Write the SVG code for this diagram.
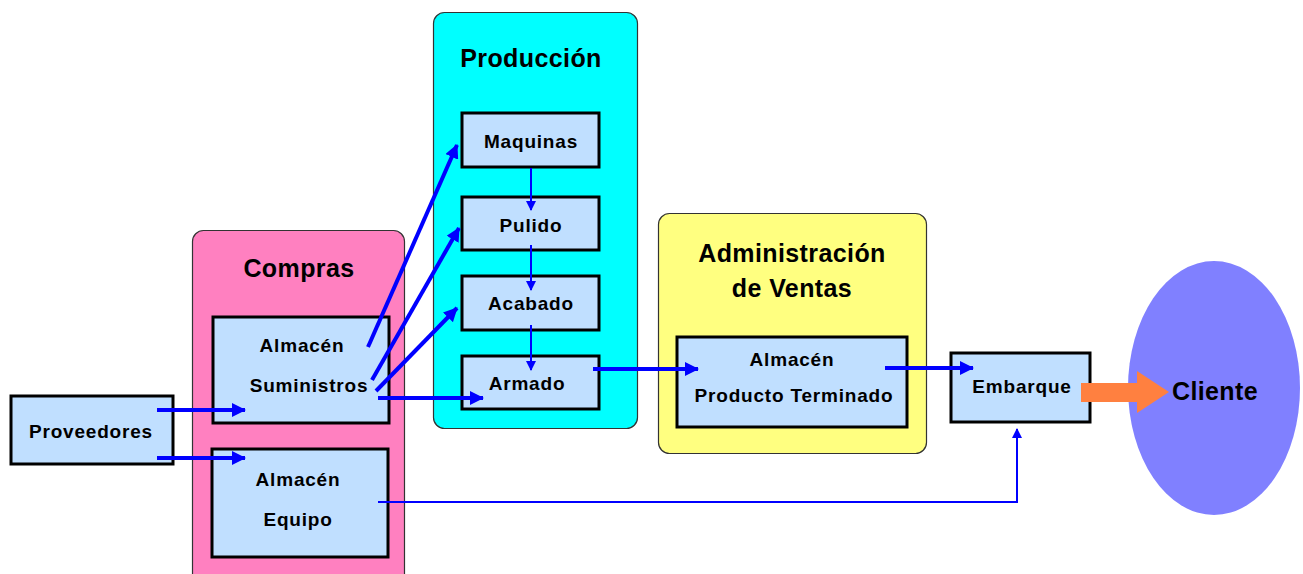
<svg xmlns="http://www.w3.org/2000/svg" width="1303" height="574" viewBox="0 0 1303 574">
<style>
.cont{stroke:#333;stroke-width:1.2}
.box{fill:#C0DFFF;stroke:#000;stroke-width:3}
.t{font-family:"Liberation Sans",Arial,sans-serif;font-weight:bold;font-size:19px;fill:#000;text-anchor:middle;letter-spacing:0.8px}
.h{font-size:25px;letter-spacing:0.4px}
.a{stroke:#0000FF;stroke-width:4;fill:none}
.a2{stroke:#0000FF;stroke-width:2;fill:none}
</style>
<defs>
<marker id="ah" markerUnits="userSpaceOnUse" markerWidth="14" markerHeight="14" viewBox="0 0 14 14" refX="13" refY="7" orient="auto">
<path d="M0,0 L14,7 L0,14 Z" fill="#0000FF"/>
</marker>
<marker id="ahs" markerUnits="userSpaceOnUse" markerWidth="10" markerHeight="10" viewBox="0 0 10 10" refX="9" refY="5" orient="auto">
<path d="M0,0 L10,5 L0,10 Z" fill="#0000FF"/>
</marker>
</defs>
<rect width="1303" height="574" fill="#fff"/>

<g id="compras">
<rect class="cont" x="192.5" y="230.5" width="212" height="360" rx="11" fill="#FF80C0"/>
<text class="t h" x="299" y="277">Compras</text>
</g>
<g id="produccion">
<rect class="cont" x="433.5" y="12.5" width="204" height="416" rx="11" fill="#00FFFF"/>
<text class="t h" x="531" y="67">Producción</text>
</g>
<g id="administracion">
<rect class="cont" x="658.5" y="213.5" width="268" height="240" rx="11" fill="#FFFF80"/>
<text class="t h" x="792" y="262">Administración</text>
<text class="t h" x="792" y="297">de Ventas</text>
</g>

<g id="proveedores">
<rect class="box" x="11" y="396" width="162" height="68"/>
<text class="t" x="91" y="438">Proveedores</text>
</g>
<g id="almacen-suministros">
<rect class="box" x="213" y="317" width="176" height="106"/>
<text class="t" x="302" y="352">Almacén</text>
<text class="t" x="309" y="392">Suministros</text>
</g>
<g id="almacen-equipo">
<rect class="box" x="212" y="449" width="176" height="108"/>
<text class="t" x="298" y="486">Almacén</text>
<text class="t" x="298" y="526">Equipo</text>
</g>
<g id="maquinas">
<rect class="box" x="462" y="113" width="137" height="54"/>
<text class="t" x="531" y="148">Maquinas</text>
</g>
<g id="pulido">
<rect class="box" x="462" y="197" width="137" height="53"/>
<text class="t" x="531" y="232">Pulido</text>
</g>
<g id="acabado">
<rect class="box" x="462" y="276" width="137" height="54"/>
<text class="t" x="531" y="310">Acabado</text>
</g>
<g id="armado">
<rect class="box" x="462" y="356" width="137" height="53"/>
<text class="t" x="527" y="390">Armado</text>
</g>
<g id="almacen-pt">
<rect class="box" x="677" y="337" width="230" height="90"/>
<text class="t" x="792" y="366">Almacén</text>
<text class="t" x="794" y="402">Producto Terminado</text>
</g>
<g id="embarque">
<rect class="box" x="951" y="353" width="139" height="69"/>
<text class="t" x="1022" y="393">Embarque</text>
</g>
<g id="cliente">
<ellipse cx="1214" cy="388" rx="86" ry="127" fill="#8080FF"/>
<text class="t h" x="1215" y="400">Cliente</text>
</g>

<g id="connectors">
<line class="a" x1="157" y1="410" x2="245" y2="410" marker-end="url(#ah)"/>
<line class="a" x1="157" y1="458" x2="245" y2="458" marker-end="url(#ah)"/>
<line class="a" x1="368" y1="347" x2="457" y2="145" marker-end="url(#ah)"/>
<line class="a" x1="372" y1="380" x2="459" y2="228" marker-end="url(#ah)"/>
<line class="a" x1="376" y1="391" x2="457" y2="308" marker-end="url(#ah)"/>
<line class="a" x1="378" y1="398" x2="483" y2="398" marker-end="url(#ah)"/>
<line class="a2" x1="531" y1="168" x2="531" y2="210" marker-end="url(#ahs)"/>
<line class="a2" x1="531" y1="245" x2="531" y2="290" marker-end="url(#ahs)"/>
<line class="a2" x1="531" y1="325" x2="531" y2="370" marker-end="url(#ahs)"/>
<line class="a" x1="593" y1="369" x2="698" y2="369" marker-end="url(#ah)"/>
<line class="a" x1="885" y1="368" x2="973" y2="368" marker-end="url(#ah)"/>
<polyline class="a2" points="378,502 1017,502 1017,429" marker-end="url(#ahs)"/>
<path d="M1081,383 L1137,383 L1137,371 L1169,392 L1137,413 L1137,402 L1081,402 Z" fill="#FF8040"/>
</g>
</svg>
